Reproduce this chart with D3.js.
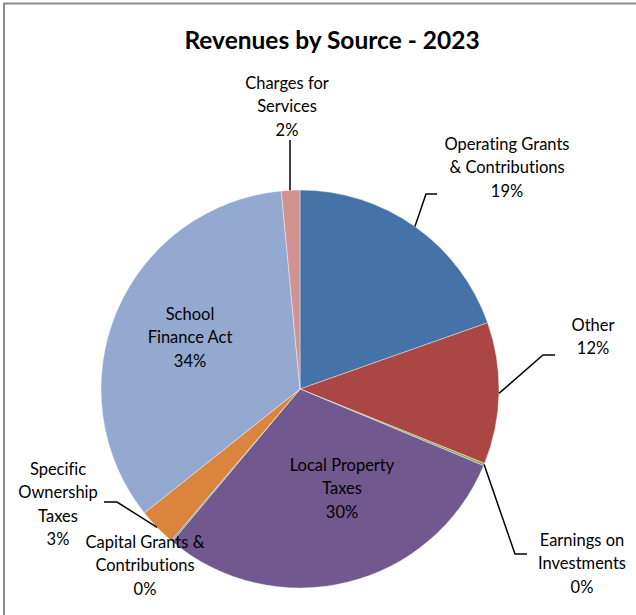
<!DOCTYPE html>
<html><head><meta charset="utf-8">
<script src="https://cdn.jsdelivr.net/npm/d3@7"></script>
<style>body{margin:0;background:#fff}svg{display:block}text{font-variant-ligatures:none}</style>
</head><body>
<svg id="chart" width="636" height="615"></svg>
<script>
const categories = ["Operating Grants & Contributions","Other","Earnings on Investments","Local Property Taxes","Capital Grants & Contributions","Specific Ownership Taxes","School Finance Act","Charges for Services"];
const values = [19.6, 11.5, 0.2, 29.8, 0.1, 3.1, 34.2, 1.5];
const pctLabels = ["19%","12%","0%","30%","0%","3%","34%","2%"];
const labelLines = [["Operating Grants","& Contributions"],["Other"],["Earnings on","Investments"],["Local Property","Taxes"],["Capital Grants &","Contributions"],["Specific","Ownership","Taxes"],["School","Finance Act"],["Charges for","Services"]];
const colors = ["#4572A7","#AA4643","#89A54E","#71588F","#4198AF","#DB843D","#93A9CF","#D19392"];

const svg = d3.select("#chart");
const font = "Lato, 'Open Sans', sans-serif";
// frame (top and left edges visible)
svg.append("rect").attr("x",4).attr("y",3.5).attr("width",700).attr("height",700).attr("fill","none").attr("stroke","#8c8c8c").attr("stroke-width",2);

svg.append("text").attr("x",332).attr("y",49).attr("text-anchor","middle")
  .attr("font-family",font).attr("font-weight","bold").attr("font-size",24.5).attr("fill","#000")
  .text("Revenues by Source - 2023");

const cx = 300, cy = 389, r = 199;
const pie = d3.pie().sort(null).value(d=>d)(values);
const arc = d3.arc().innerRadius(0).outerRadius(r);
const g = svg.append("g").attr("transform",`translate(${cx},${cy})`);
g.selectAll("path").data(pie).join("path").attr("d",arc)
  .attr("fill",(d,i)=>colors[i]).attr("stroke","#fff").attr("stroke-width",0.4);

// label positions (text centre x, first baseline y) and leader lines
const labelPos = [
  {x:507,y:150,leader:[[437,194],[426,194]]},
  {x:593,y:331,leader:[[555,355],[543,355]]},
  {x:582,y:546,leader:[[527,554],[515,554]]},
  {x:342,y:471},
  {x:145,y:548},
  {x:58,y:475,leader:[[104,502],[117,502]]},
  {x:190,y:320},
  {x:287,y:89,leader:[[290,140]]}
];
const line = d3.line();
pie.forEach((d,i)=>{
  const p = labelPos[i];
  if(p.leader){
    const mid = (d.startAngle+d.endAngle)/2;
    let edge = [cx + r*Math.sin(mid), cy - r*Math.cos(mid)];
    if(i===7) edge = [p.leader[0][0], cy - r*Math.cos(mid)];
    svg.append("path").attr("d",line([...p.leader, edge])).attr("fill","none").attr("stroke","#000").attr("stroke-width",1.5);
  }
  const t = svg.append("text").attr("text-anchor","middle").attr("font-family",font).attr("font-size",16.5).attr("fill","#000");
  const lines = [...labelLines[i], pctLabels[i]];
  lines.forEach((s,k)=>t.append("tspan").attr("x",p.x).attr("y",p.y + k*23.3).text(s));
});
</script>
</body></html>
